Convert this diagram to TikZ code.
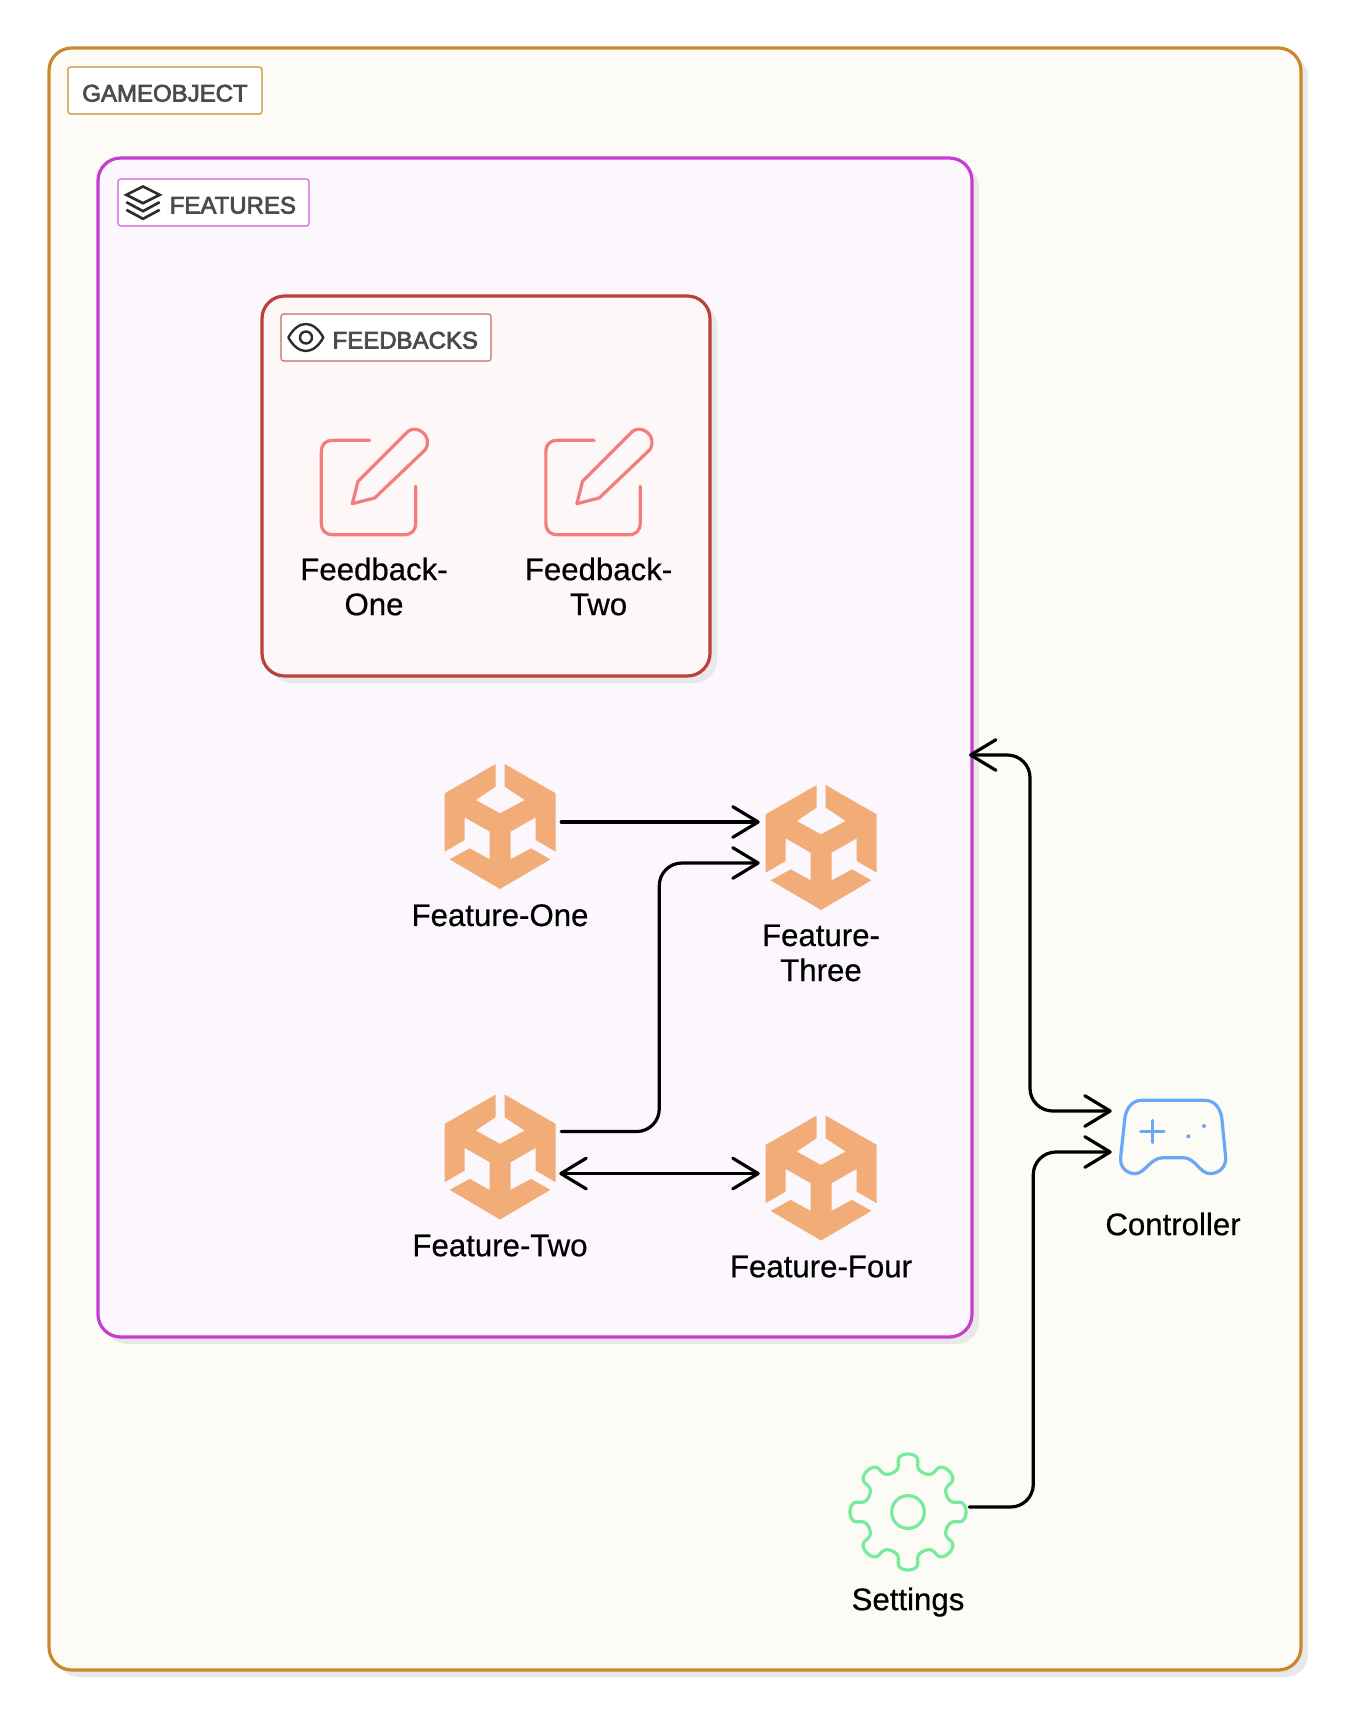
\documentclass[tikz,border=0pt]{standalone}
\usepackage{fontspec}
\setmainfont{Liberation Sans}
\newfontfamily\tagFont[FakeBold=3]{Liberation Sans}
\newfontfamily\iconFont[FakeBold=0.5]{Liberation Sans}
\usetikzlibrary{arrows.meta,calc,positioning,shadows}
\definecolor{objectColor}{RGB}{200,137,46}
\definecolor{objectFill}{RGB}{252,251,246}
\definecolor{featureColor}{RGB}{196,63,208}
\definecolor{featureFill}{RGB}{251,247,253}
\definecolor{feedbackColor}{RGB}{188,63,59}
\definecolor{feedbackFill}{RGB}{253,247,247}
\definecolor{cubeColor}{RGB}{241,172,120}
\definecolor{editColor}{RGB}{244,124,124}
\definecolor{padColor}{RGB}{106,168,245}
\definecolor{gearColor}{RGB}{116,236,156}
\definecolor{tagText}{RGB}{75,75,75}
\definecolor{glyphColor}{RGB}{45,45,45}
\tikzset{container/.style={draw, line width=2.4pt, rounded corners=17pt, anchor=north west, outer sep=0pt, drop shadow={shadow xshift=5.25pt, shadow yshift=-5.25pt, fill=black!9, opacity=1}}}
\tikzset{tagBox/.style={draw, fill=white, line width=.8pt, rounded corners=2pt, anchor=north west, outer sep=0pt, inner xsep=9.75pt, inner ysep=0pt, minimum height=35.25pt, text height=16.6pt, text depth=0pt, text=tagText, font=\tagFont\fontsize{18pt}{20pt}\selectfont}}
\tikzset{iconBox/.style={minimum width=91.5pt, minimum height=94.5pt, inner sep=0pt}}
\tikzset{iconText/.style={align=center, inner sep=0pt, font=\iconFont\fontsize{23.4pt}{26.25pt}\selectfont}}
\tikzset{link/.style={line width=2.4pt, line cap=round, rounded corners=17pt, -{Straight Barb[length=19pt, width=23pt, round]}}}
\tikzset{duplex/.style={link, {Straight Barb[length=19pt, width=23pt, round]}-{Straight Barb[length=19pt, width=23pt, round]}}}
% Icons, drawn in the units of a 3x crop
\tikzset{unityCube/.pic={
  \fill[cubeColor, scale=1/3, shift={(-238,-258)}] (225,72) -- (72,160) -- (72,335) -- (132,300) -- (132,232) -- (207,275) -- (207,358) -- (147,325) -- (87,358) -- (238,447) -- (389,358) -- (331,325) -- (270,358) -- (270,275) -- (345,232) -- (345,300) -- (405,335) -- (405,160) -- (252,72) -- (252,140) -- (312,180) -- (238,220) -- (165,180) -- (225,140) -- cycle;
}}
\tikzset{editIcon/.pic={
  \begin{scope}[scale=1/3, shift={(-283,-245)}, editColor, line width=2.4pt, line cap=round, line join=round]
  \draw (270,120) -- (160,120) .. controls (137,120) and (125,132) .. (125,155) -- (125,368) .. controls (125,391) and (137,403) .. (160,403) -- (373,403) .. controls (396,403) and (408,391) .. (408,368) -- (408,258);
  \draw (218,310) -- (235,243) -- (385,93) .. controls (410,72) and (462,105) .. (437,148) -- (285,293) -- cycle;
  \end{scope}
}}
\tikzset{padIcon/.pic={
  \begin{scope}[scale=1/3, shift={(-519,-170)}, padColor, line width=2.4pt, line cap=round, line join=round]
  \draw (425,60) -- (615,60) .. controls (645,60) and (660,85) .. (665,110) -- (677,230) .. controls (680,265) and (650,280) .. (630,280) .. controls (600,280) and (585,232) .. (550,232) -- (490,232) .. controls (450,232) and (435,280) .. (405,280) .. controls (385,280) and (358,265) .. (362,230) -- (375,110) .. controls (380,85) and (395,60) .. (425,60) -- cycle;
  \draw (422,153) -- (492,153) (457,120) -- (457,187);
  \fill (565,168) circle (6) (612,137) circle (6);
  \end{scope}
}}
\tikzset{gearIcon/.pic={
  \begin{scope}[scale=1/3, gearColor, line width=2.4pt]
  \draw plot[domain=0:360, samples=321] ({(150+24*cos(8*\x))*cos(\x+3*sin(16*\x))},{(150+24*cos(8*\x))*sin(\x+3*sin(16*\x))}) -- cycle;
  \draw (0,0) circle (49);
  \end{scope}
}}
\tikzset{stackIcon/.pic={
  \begin{scope}[scale=1/3, shift={(-308,-516)}, glyphColor, line width=2pt, line join=miter]
  \draw (308,468) -- (358,493) -- (308,518) -- (258,493) -- cycle;
  \draw (258,515) -- (308,542) -- (358,515);
  \draw (258,538) -- (308,565) -- (358,538);
  \end{scope}
}}
\tikzset{eyeIcon/.pic={
  \begin{scope}[scale=1/3, shift={(-798,-922)}, glyphColor, line width=1.8pt, line join=round]
  \draw (745,922) .. controls (775,868) and (820,868) .. (850,922) .. controls (820,976) and (775,976) .. (745,922) -- cycle;
  \draw (798,922) circle (18);
  \end{scope}
}}

\begin{document}
\begin{tikzpicture}[x=.75pt, y=-.75pt, node distance=9pt]
\useasboundingbox (0,0) rectangle (1350,1722);

% Containers
\node (gameobject) [container, draw=objectColor, fill=objectFill, minimum width=939pt, minimum height=1216.5pt] at (49,48) {};
\node (gameobjectTag) [tagBox, draw=objectColor, minimum width=145.5pt] at (68,67) {GAMEOBJECT};

\node (features) [container, draw=featureColor, fill=featureFill, minimum width=655.5pt, minimum height=884.25pt] at (98,158) {};
\node (featuresTag) [tagBox, draw=featureColor!85, minimum width=143.25pt, text width=123.75pt, align=right] at (118,179) {FEATURES};

\node (feedbacks) [container, draw=feedbackColor, fill=feedbackFill, minimum width=336pt, minimum height=285pt] at (262,296) {};
\node (feedbacksTag) [tagBox, draw=feedbackColor!80, minimum width=157.5pt, text width=138pt, align=right] at (281,314) {FEEDBACKS};

% Icons
\node (feedbackOne) [iconBox] at (374,482) {};
\node (feedbackTwo) [iconBox, right=76.5pt of feedbackOne] {};
\node (featureOne) [iconBox] at (500,826) {};
\node (featureTwo) [iconBox, below=153pt of featureOne] {};
\node (featureThree) [iconBox] at (821,847) {};
\node (featureFour) [iconBox, below=153pt of featureThree] {};
\node (controller) [iconBox] at (1173,1137) {};
\node (settings) [iconBox] at (908,1512) {};

\foreach \name in {featureOne,featureTwo,featureThree,featureFour}
  \pic at (\name) {unityCube};
\foreach \name in {feedbackOne,feedbackTwo}
  \pic at (\name) {editIcon};
\pic at (controller) {padIcon};
\pic at (settings) {gearIcon};
\pic at ($(featuresTag.west)+(25,0)$) {stackIcon};
\pic at ($(feedbacksTag.west)+(25,0)$) {eyeIcon};

% Labels
\node (feedbackOneText) [iconText, below=of feedbackOne] {Feedback-\\One};
\node (feedbackTwoText) [iconText, below=of feedbackTwo] {Feedback-\\Two};
\node (featureOneText) [iconText, below=11pt of featureOne] {Feature-One};
\node (featureTwoText) [iconText, below=11pt of featureTwo] {Feature-Two};
\node (featureThreeText) [iconText, below=10.5pt of featureThree] {Feature-\\Three};
\node (featureFourText) [iconText, below=11pt of featureFour] {Feature-Four};
\node (controllerText) [iconText, below=of controller] {Controller};
\node (settingsText) [iconText, below=of settings] {Settings};

% Connectors
\draw [link] ($(featureOne.east)+(0,-4)$) -- ($(featureThree.west)+(0,-25)$);
\draw [link] ($(featureTwo.east)+(0,-25)$) -- ++(98,0) |- ($(featureThree.west)+(0,16)$);
\draw [duplex] ($(featureTwo.east)+(-2,17)$) -- ($(featureFour.west)+(0,-4)$);
\draw [duplex] ($(features.east)+(-3,7.5)$) -- ++(61,0) |- ($(controller.west)+(0,-26)$);
\draw [link] ($(settings.east)+(0,-5)$) -- ++(64,0) |- ($(controller.west)+(0,15)$);

\end{tikzpicture}
\end{document}
